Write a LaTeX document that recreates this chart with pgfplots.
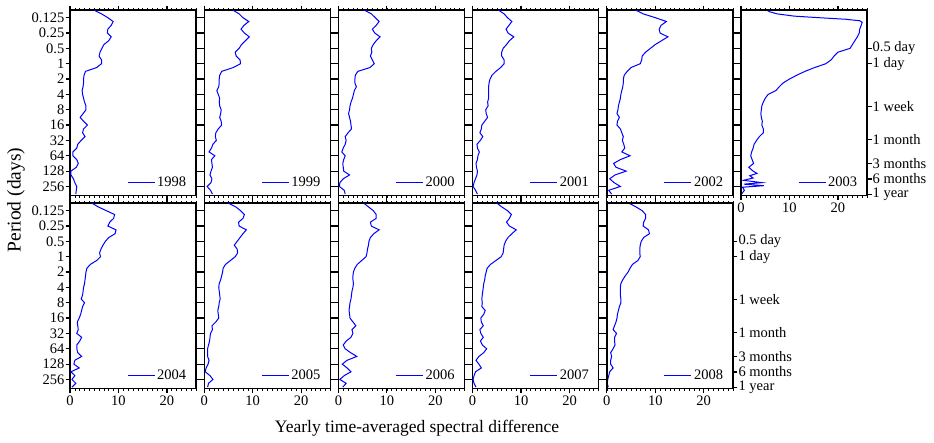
\documentclass[border=0pt]{standalone}
\usepackage{pgfplots}
\usepackage{pgfplotstable}
\pgfplotsset{compat=1.18}
\usepackage{fontspec}
\setmainfont{Liberation Serif}

% k = log2(period in days), d = spectral difference
\pgfplotstableread{
k d
-3.5 4.9
-3.25 6.5
-3 7.8
-2.75 8.9
-2.5 8.5
-2.25 7.8
-2 7.7
-1.75 8.5
-1.5 8.0
-1.25 7.0
-1 6.6
-0.75 6.2
-0.5 6.0
-0.25 6.5
0 6.5
0.25 5.5
0.5 3.2
0.75 2.9
1 2.8
1.25 2.8
1.5 2.7
1.75 2.5
2 2.6
2.25 2.8
2.5 3.0
2.75 3.3
3 3.3
3.25 2.7
3.5 2.1
3.75 2.8
4 3.6
4.25 2.8
4.5 2.6
4.75 3.1
5 2.3
5.25 1.6
5.5 1.4
5.75 0.6
6 0.6
6.25 1.4
6.5 1.7
6.75 1.3
7 0.2
7.25 0.2
7.5 0.7
7.75 1.0
8 1.4
8.25 1.3
8.5 1.2
}\tA
\pgfplotstableread{
k d
-3.5 5.9
-3.25 7.2
-3 8.0
-2.75 9.2
-2.5 8.2
-2.25 7.6
-2 8.3
-1.75 9.3
-1.5 8.5
-1.25 7.7
-1 7.2
-0.75 6.4
-0.5 6.6
-0.25 7.4
0 7.5
0.25 6.0
0.5 3.6
0.75 3.2
1 3.1
1.25 3.1
1.5 3.0
1.75 2.6
2 2.9
2.25 3.2
2.5 3.1
2.75 3.2
3 3.5
3.25 3.4
3.5 3.2
3.75 3.5
4 3.6
4.25 2.9
4.5 2.4
4.75 2.3
5 2.5
5.25 1.8
5.5 1.5
5.75 1.0
6 2.2
6.25 1.5
6.5 1.6
6.75 1.7
7 1.4
7.25 1.2
7.5 1.6
7.75 1.4
8 0.6
8.25 1.3
8.5 1.7
}\tB
\pgfplotstableread{
k d
-3.5 5.3
-3.25 6.8
-3 7.6
-2.75 8.4
-2.5 7.8
-2.25 7.0
-2 7.5
-1.75 8.6
-1.5 7.8
-1.25 7.2
-1 6.8
-0.75 6.9
-0.5 6.6
-0.25 7.0
0 7.4
0.25 6.5
0.5 4.0
0.75 3.5
1 3.4
1.25 3.4
1.5 3.7
1.75 3.3
2 3.1
2.25 2.9
2.5 2.6
2.75 2.4
3 2.3
3.25 2.1
3.5 2.3
3.75 2.5
4 2.6
4.25 2.7
4.5 2.0
4.75 1.4
5 1.6
5.25 1.4
5.5 1.0
5.75 0.7
6 1.4
6.25 1.1
6.5 0.9
6.75 1.0
7 1.1
7.25 2.3
7.5 1.0
7.75 0.3
8 0.2
8.25 1.2
8.5 1.4
}\tC
\pgfplotstableread{
k d
-3.5 5.3
-3.25 6.5
-3 7.2
-2.75 8.1
-2.5 7.5
-2.25 6.9
-2 7.3
-1.75 8.5
-1.5 7.6
-1.25 7.0
-1 6.3
-0.75 6.0
-0.5 6.0
-0.25 6.5
0 6.5
0.25 5.8
0.5 4.8
0.75 4.0
1 3.6
1.25 3.4
1.5 3.3
1.75 3.3
2 3.3
2.25 3.3
2.5 3.1
2.75 3.2
3 2.7
3.25 2.8
3.5 3.1
3.75 2.5
4 1.9
4.25 1.8
4.5 1.5
4.75 2.1
5 1.6
5.25 0.9
5.5 1.0
5.75 1.4
6 1.1
6.25 1.0
6.5 0.7
6.75 0.8
7 1.0
7.25 0.9
7.5 0.6
7.75 0.3
8 0.1
8.25 0.6
8.5 1.0
}\tD
\pgfplotstableread{
k d
-3.5 5.9
-3.25 7.5
-3 10.0
-2.75 12.3
-2.5 11.2
-2.25 10.8
-2 11.0
-1.75 12.6
-1.5 11.3
-1.25 10.0
-1 9.0
-0.75 8.0
-0.5 7.3
-0.25 7.2
0 6.9
0.25 5.0
0.5 4.2
0.75 3.6
1 3.4
1.25 3.4
1.5 3.3
1.75 3.1
2 2.9
2.25 2.8
2.5 2.6
2.75 2.4
3 2.3
3.25 2.1
3.5 2.6
3.75 2.2
4 2.1
4.25 2.8
4.5 3.1
4.75 3.4
5 3.2
5.25 3.5
5.5 3.7
5.75 3.1
6 4.8
6.25 2.8
6.5 1.4
6.75 1.9
7 4.0
7.25 1.7
7.5 0.6
7.75 1.5
8 2.8
8.25 0.4
8.5 1.0
}\tE
\pgfplotstableread{
k d
-3.5 5.3
-3.4 5.8
-3.25 7.4
-3.1 11.0
-3 16.0
-2.9 21.5
-2.8 24.5
-2.7 25.0
-2.5 24.8
-2.25 24.5
-2 24.4
-1.75 24.0
-1.5 23.5
-1.25 23.0
-1 22.5
-0.75 20.0
-0.5 19.2
-0.25 18.6
0 17.5
0.25 15.2
0.5 13.2
0.75 11.5
1 10.0
1.25 8.7
1.5 7.9
1.75 7.2
2 5.6
2.25 5.0
2.5 4.6
2.75 4.3
3 4.2
3.25 4.1
3.5 4.2
3.75 4.4
4 4.3
4.25 4.6
4.5 4.6
4.75 3.8
5 3.2
5.25 2.7
5.5 2.5
5.75 2.2
6 2.0
6.25 2.3
6.5 2.6
6.75 1.6
7 2.5
7.15 3.3
7.3 1.8
7.45 2.5
7.6 0.5
7.75 4.3
7.85 0.6
7.95 4.7
8.05 0.3
8.25 0.7
8.5 0.1
}\tF
\pgfplotstableread{
k d
-3.5 4.5
-3.25 5.8
-3 7.5
-2.75 9.2
-2.5 9.0
-2.25 8.2
-2 7.8
-1.75 9.5
-1.5 9.3
-1.25 8.0
-1 7.3
-0.75 6.8
-0.5 6.4
-0.25 6.1
0 6.3
0.25 5.5
0.5 4.2
0.75 3.5
1 3.3
1.25 3.2
1.5 3.1
1.75 3.0
2 2.8
2.25 2.7
2.5 2.6
2.75 2.3
3 3.0
3.25 2.6
3.5 2.4
3.75 2.2
4 1.9
4.25 1.5
4.5 1.6
4.75 1.7
5 1.4
5.25 2.4
5.5 2.0
5.75 1.4
6 1.4
6.25 1.6
6.5 2.4
6.75 1.0
7 0.8
7.25 1.9
7.5 0.2
7.75 1.0
8 0.4
8.25 1.2
8.5 0.4
}\tG
\pgfplotstableread{
k d
-3.5 4.9
-3.25 6.5
-3 7.5
-2.75 8.3
-2.5 8.0
-2.25 7.1
-2 7.2
-1.75 8.7
-1.5 8.0
-1.25 7.4
-1 6.8
-0.75 6.2
-0.5 6.8
-0.25 6.9
0 6.4
0.25 5.4
0.5 4.4
0.75 3.9
1 3.8
1.25 3.6
1.5 3.4
1.75 3.1
2 3.0
2.25 3.1
2.5 3.2
2.75 3.3
3 3.1
3.25 3.0
3.5 2.8
3.75 2.9
4 3.0
4.25 2.4
4.5 1.6
4.75 1.7
5 1.3
5.25 1.2
5.5 1.1
5.75 0.9
6 0.7
6.25 0.7
6.5 0.7
6.75 1.0
7 0.8
7.25 0.4
7.5 0.2
7.75 1.2
8 1.8
8.25 0.9
8.5 0.7
}\tH
\pgfplotstableread{
k d
-3.5 5.2
-3.25 6.2
-3 7.2
-2.75 7.8
-2.5 7.8
-2.25 6.6
-2 6.8
-1.75 8.4
-1.5 7.3
-1.25 6.6
-1 6.3
-0.75 6.2
-0.5 6.0
-0.25 5.9
0 5.7
0.25 4.8
0.5 3.9
0.75 3.4
1 3.1
1.25 3.0
1.5 3.0
1.75 3.1
2 3.0
2.25 2.8
2.5 2.7
2.75 2.6
3 2.4
3.25 2.3
3.5 2.2
3.75 2.3
4 2.4
4.25 3.0
4.5 3.6
4.75 2.8
5 3.0
5.25 2.6
5.5 1.6
5.75 1.0
6 1.4
6.25 2.5
6.5 3.8
6.75 1.8
7 0.8
7.25 1.8
7.5 2.6
7.75 1.2
8 0.3
8.25 1.6
8.5 0.9
}\tI
\pgfplotstableread{
k d
-3.5 5.0
-3.25 6.0
-3 7.2
-2.75 8.0
-2.5 7.6
-2.25 7.0
-2 7.6
-1.75 9.0
-1.5 8.1
-1.25 7.3
-1 6.8
-0.75 6.5
-0.5 6.4
-0.25 6.3
0 5.9
0.25 4.8
0.5 3.7
0.75 3.0
1 2.8
1.25 2.6
1.5 2.5
1.75 2.3
2 2.2
2.25 2.1
2.5 2.0
2.75 1.9
3 2.0
3.25 1.9
3.5 2.6
3.75 2.3
4 1.7
4.25 1.8
4.5 2.2
4.75 1.5
5 1.7
5.25 2.2
5.5 1.6
5.75 2.0
6 2.9
6.25 2.3
6.5 1.3
6.75 0.7
7 1.3
7.25 1.8
7.5 0.6
7.75 0.3
8 0.1
8.25 0.3
8.5 0.7
}\tJ
\pgfplotstableread{
k d
-3.5 4.5
-3.25 6.0
-3 7.3
-2.75 8.0
-2.5 8.0
-2.25 7.6
-2 7.5
-1.75 8.6
-1.5 8.8
-1.25 7.6
-1 7.1
-0.75 6.9
-0.5 6.8
-0.25 6.8
0 6.9
0.25 6.4
0.5 5.3
0.75 4.8
1 4.4
1.25 3.8
1.5 3.3
1.75 2.9
2 2.8
2.25 2.8
2.5 2.8
2.75 2.9
3 2.9
3.25 2.6
3.5 2.4
3.75 2.2
4 2.1
4.25 1.9
4.5 1.6
4.75 1.3
5 2.0
5.25 1.6
5.5 1.6
5.75 1.7
6 1.3
6.25 0.8
6.5 1.0
6.75 0.8
7 0.8
7.25 1.3
7.5 0.6
7.75 0.4
8 0.2
8.25 0.1
8.5 0.3
}\tK

\newcommand{\tickfont}{\fontsize{14.5}{15}\selectfont}
\pgfplotsset{
  scale only axis, width=126pt, height=185.5pt,
  xmin=0, xmax=26, ymin=0.0884, ymax=385,
  y dir=reverse,
  xtick={0,10,20}, minor xtick={0,1,...,26},
  ytick={0.125,0.25,0.5,1,2,4,8,16,32,64,128,256},
  yticklabels={}, xticklabels={},
  tick align=outside, major tick length=4.5pt, minor tick length=2pt,
  axis line style={line width=1.4pt},
  every major tick/.style={black, line width=1.2pt},
  every minor tick/.style={black, line width=0.6pt},
  tick label style={font=\tickfont},
  xticklabel style={yshift=1pt},
  yticklabel style={inner xsep=1pt},
  legend style={draw=none, fill=none, at={(0.94,0.03)}, anchor=south east,
    font=\tickfont, inner sep=0pt},
  legend image code/.code={\draw[blue, line width=1.3pt] (0pt,0pt) -- (27pt,0pt);},
  leftlab/.style={yticklabels={0.125,0.25,0.5,1,2,4,8,16,32,64,128,256}},
  botlab/.style={xticklabels={0,10,20}},
  rightlab/.style={ytick pos=right, xtick=\empty, minor xtick={},
    ytick={0.5,1,7,30.44,91.31,182.6,365.25},
    yticklabels={0.5 day,1 day,1 week,1 month,3 months,6 months,1 year},
    yticklabel style={anchor=west}},
}
\newcommand{\panelplot}[2]{\addplot[blue, no markers, line width=1pt] table[x=d, y expr={2^(\thisrow{k})}] {#1}; \addlegendentry{#2}}

\begin{document}
\begin{tikzpicture}
\path[use as bounding box] (0pt,0pt) rectangle (934pt,-442pt);
% top row
\begin{axis}[ymode=log, log basis y=2, anchor=north west, leftlab, at={(70pt,-10pt)}]
\panelplot{\tA}{1998}
\end{axis}
\begin{axis}[ymode=log, log basis y=2, anchor=north west, at={(204.2pt,-10pt)}]
\panelplot{\tB}{1999}
\end{axis}
\begin{axis}[ymode=log, log basis y=2, anchor=north west, at={(338.4pt,-10pt)}]
\panelplot{\tC}{2000}
\end{axis}
\begin{axis}[ymode=log, log basis y=2, anchor=north west, at={(472.6pt,-10pt)}]
\panelplot{\tD}{2001}
\end{axis}
\begin{axis}[ymode=log, log basis y=2, anchor=north west, at={(606.8pt,-10pt)}]
\panelplot{\tE}{2002}
\end{axis}
\begin{axis}[ymode=log, log basis y=2, anchor=north west, botlab, ytick pos=left, at={(741pt,-10pt)}]
\panelplot{\tF}{2003}
\end{axis}
\begin{axis}[ymode=log, log basis y=2, anchor=north west, rightlab, at={(741pt,-10pt)}]
\addplot[draw=none, forget plot] coordinates {(1,1)};
\end{axis}
% bottom row
\begin{axis}[ymode=log, log basis y=2, anchor=north west, leftlab, botlab, at={(70pt,-203pt)}]
\panelplot{\tG}{2004}
\end{axis}
\begin{axis}[ymode=log, log basis y=2, anchor=north west, botlab, at={(204.2pt,-203pt)}]
\panelplot{\tH}{2005}
\end{axis}
\begin{axis}[ymode=log, log basis y=2, anchor=north west, botlab, at={(338.4pt,-203pt)}]
\panelplot{\tI}{2006}
\end{axis}
\begin{axis}[ymode=log, log basis y=2, anchor=north west, botlab, at={(472.6pt,-203pt)}]
\panelplot{\tJ}{2007}
\end{axis}
\begin{axis}[ymode=log, log basis y=2, anchor=north west, botlab, ytick pos=left, at={(606.8pt,-203pt)}]
\panelplot{\tK}{2008}
\end{axis}
\begin{axis}[ymode=log, log basis y=2, anchor=north west, rightlab, at={(606.8pt,-203pt)}]
\addplot[draw=none, forget plot] coordinates {(1,1)};
\end{axis}
\node[rotate=90, font=\fontsize{19.5}{20}\selectfont] at (16pt,-200pt) {Period (days)};
\node[font=\fontsize{17.5}{18}\selectfont] at (417pt,-428pt) {Yearly time-averaged spectral difference};
\end{tikzpicture}
\end{document}
